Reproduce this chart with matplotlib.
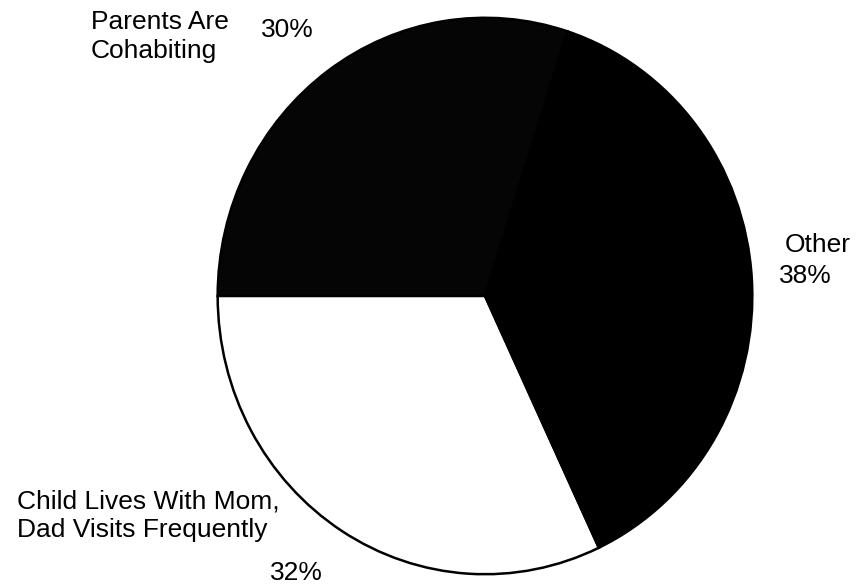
import numpy as np
import matplotlib.pyplot as plt

# slices, counterclockwise from the top boundary
labels = ['Parents Are\nCohabiting', 'Child Lives With Mom,\nDad Visits Frequently', 'Other']
shares = [30, 32, 38]
pct_text = ['30%', '32%', '38%']
colors = ['#050505', '#ffffff', '#000000']

W, H = 856, 584
fig = plt.figure(figsize=(W / 100, H / 100), dpi=100)
plt.rcParams['font.family'] = ['Liberation Sans', 'DejaVu Sans']

# pie box in pixels (scan is a little taller than wide)
px0, px1, py0, py1 = 215, 755, 15, 577
ax = fig.add_axes([px0 / W, 1 - py1 / H, (px1 - px0) / W, (py1 - py0) / H])
wedges, _ = ax.pie(shares, colors=colors, startangle=72, counterclock=True,
                   wedgeprops=dict(edgecolor='black', linewidth=1.8))
ax.set_xlim(-1.01, 1.01)
ax.set_ylim(-1.01, 1.01)
ax.set_aspect('auto')
ax.axis('off')

def put(s, x, y):
    # x = left edge, y = baseline of the last line, in pixels
    fig.text(x / W, 1 - y / H, s, fontsize=19, ha='left', va='baseline',
             linespacing=1.25, color='black')

put(labels[0], 91, 58)
put(pct_text[0], 261, 37)
put(labels[2], 785, 252)
put(pct_text[2], 779, 283)
put(labels[1], 17, 537)
put(pct_text[1], 270, 580)

fig.savefig('out.png', dpi=100, facecolor='white')
